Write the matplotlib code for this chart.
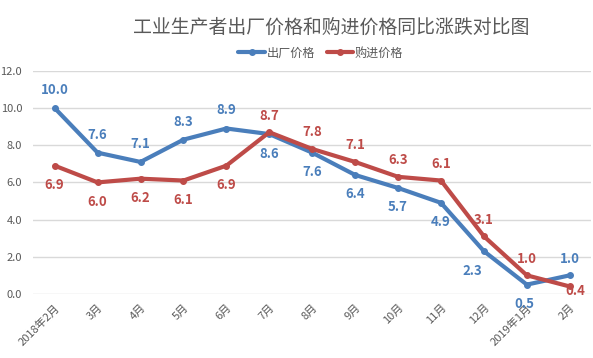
import matplotlib.pyplot as plt
import numpy as np

plt.rcParams['font.family'] = ['Noto Sans CJK SC', 'DejaVu Sans']

months = ['2018年2月', '3月', '4月', '5月', '6月', '7月', '8月', '9月', '10月',
          '11月', '12月', '2019年1月', '2月']
factory = [10.0, 7.6, 7.1, 8.3, 8.9, 8.6, 7.6, 6.4, 5.7, 4.9, 2.3, 0.5, 1.0]
purchase = [6.9, 6.0, 6.2, 6.1, 6.9, 8.7, 7.8, 7.1, 6.3, 6.1, 3.1, 1.0, 0.4]

# label offsets (points) for each data label
factory_off = [(0, 13), (0, 13), (0, 13), (0, 13), (0, 13), (0, -14), (0, -14),
               (0, -14), (0, -14), (0, -14), (-8, -14), (-2, -14), (0, 12)]
purchase_off = [(0, -14), (0, -14), (0, -14), (0, -14), (0, -14), (0, 12), (0, 12),
                (0, 12), (0, 12), (0, 12), (0, 12), (0, 12), (4, -3)]

blue = '#4A7EBB'
red = '#BE4B48'
gray = '#595959'

fig = plt.figure(figsize=(5.93, 3.58), dpi=100)
ax = fig.add_axes([0.056, 0.179, 0.941, 0.623])

x = np.arange(len(months))
ax.plot(x, factory, color=blue, lw=3, marker='o', ms=4, label='出厂价格',
        solid_capstyle='round', zorder=3)
ax.plot(x, purchase, color=red, lw=3, marker='o', ms=4, label='购进价格',
        solid_capstyle='round', zorder=4)

for i in range(len(x)):
    ax.annotate(f'{factory[i]:.1f}', (x[i], factory[i]), xytext=factory_off[i],
                textcoords='offset points', ha='center', va='center',
                color=blue, fontsize=9.5, fontweight='bold', zorder=5)
    ax.annotate(f'{purchase[i]:.1f}', (x[i], purchase[i]), xytext=purchase_off[i],
                textcoords='offset points', ha='center', va='center',
                color=red, fontsize=9.5, fontweight='bold', zorder=5)

ax.set_xlim(-0.5, len(months) - 0.5)
ax.set_ylim(0, 12)
ax.set_yticks(np.arange(0, 13, 2))
ax.set_yticklabels([f'{v:.1f}' for v in np.arange(0, 13, 2)])
ax.set_xticks(x)
ax.set_xticklabels(months, rotation=45, ha='right', rotation_mode='anchor')
ax.tick_params(axis='both', length=0, colors=gray, labelsize=8)
ax.tick_params(axis='x', pad=6)
ax.tick_params(axis='y', pad=8)
ax.grid(axis='y', color='#D9D9D9', lw=1)
ax.set_axisbelow(True)
for s in ax.spines.values():
    s.set_visible(False)

fig.text(0.559, 0.925, '工业生产者出厂价格和购进价格同比涨跌对比图', ha='center',
         va='center', fontsize=13.6, color=gray, fontweight='light')
fig.legend(loc='center', bbox_to_anchor=(0.541, 0.852), ncol=2, frameon=False,
           fontsize=8.7, handlelength=2.2, columnspacing=1.0, handletextpad=0.1,
           labelcolor=gray)

fig.savefig('out.png', dpi=100)
